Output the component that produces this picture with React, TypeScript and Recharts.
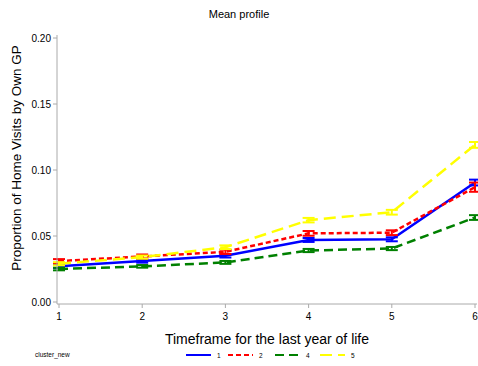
import React from "react";
import { LineChart, Line, XAxis, YAxis, ErrorBar } from "recharts";

const timeframes = [1, 2, 3, 4, 5, 6];
const cluster1 = [0.027, 0.031, 0.035, 0.047, 0.0475, 0.0905];
const cluster1Err = [0.0012, 0.0012, 0.0013, 0.0015, 0.0015, 0.0022];
const cluster2 = [0.031, 0.0345, 0.038, 0.052, 0.0525, 0.087];
const cluster2Err = [0.0015, 0.0015, 0.0016, 0.0018, 0.0018, 0.0035];
const cluster4 = [0.025, 0.027, 0.030, 0.039, 0.0405, 0.064];
const cluster4Err = [0.0010, 0.0010, 0.0011, 0.0012, 0.0012, 0.0018];
const cluster5 = [0.029, 0.034, 0.0415, 0.062, 0.068, 0.119];
const cluster5Err = [0.0012, 0.0012, 0.0014, 0.0017, 0.0018, 0.0022];
const yTicks = [0, 0.05, 0.1, 0.15, 0.2];
const seriesNames = ["1", "2", "4", "5"];

const data = timeframes.map((t, i) => ({
  t,
  c1: cluster1[i], c1e: cluster1Err[i],
  c2: cluster2[i], c2e: cluster2Err[i],
  c4: cluster4[i], c4e: cluster4Err[i],
  c5: cluster5[i], c5e: cluster5Err[i],
}));

const series = [
  { key: "c1", err: "c1e", color: "#0000ff", dash: undefined as string | undefined },
  { key: "c2", err: "c2e", color: "#ff0000", dash: "5 3" },
  { key: "c4", err: "c4e", color: "#008000", dash: "9 5" },
  { key: "c5", err: "c5e", color: "#ffff00", dash: "12 6" },
];

const FONT = "'Liberation Sans', Arial, sans-serif";

const LegendBox = () => (
  <svg width={478} height={14} style={{ position: "absolute", left: 0, top: 348, display: "block" }}>
    <text x={35} y={9} fontSize={6.5} fontFamily={FONT} fill="#000">cluster_new</text>
    {series.map((s, i) => {
      const x0 = [186, 228, 275, 320][i];
      return (
        <g key={s.key}>
          <line x1={x0} x2={x0 + 25} y1={7} y2={7} stroke={s.color} strokeWidth={2} strokeDasharray={s.dash} />
          <text x={x0 + 31} y={9.5} fontSize={6.5} fontFamily={FONT} fill="#000">{seriesNames[i]}</text>
        </g>
      );
    })}
  </svg>
);

const YLabel = () => (
  <text
    x={0}
    y={0}
    transform="translate(21, 158) rotate(-90)"
    textAnchor="middle"
    fontSize={13.5}
    fontFamily={FONT}
    fill="#000"
  >
    Proportion of Home Visits by Own GP
  </text>
);

export default function App() {
  return (
    <div style={{ position: "absolute", left: 0, top: 0, width: 478, height: 366, background: "#fff", fontFamily: FONT }}>
      <div style={{ position: "absolute", left: 0, top: 8, width: 478, textAlign: "center", fontSize: 11, color: "#000" }}>
        Mean profile
      </div>
      <LineChart width={478} height={366} data={data} margin={{ top: 35, right: 1, bottom: 20, left: 0 }}>
        <XAxis
          dataKey="t"
          type="number"
          domain={[1, 6]}
          ticks={timeframes}
          padding={{ left: 2, right: 2 }}
          height={42}
          stroke="#aaa"
          tickSize={4}
          tick={{ fill: "#000", fontSize: 10, fontFamily: FONT, dy: 3 }}
          label={{ value: "Timeframe for the last year of life", position: "insideBottom", offset: 2, fontSize: 14, fill: "#000", fontFamily: FONT }}
        />
        <XAxis xAxisId="top" orientation="top" dataKey="t" type="number" domain={[1, 6]} height={0} tick={false} tickLine={false} stroke="#aaa" />
        <YAxis
          type="number"
          domain={[0, 0.2]}
          ticks={yTicks}
          tickFormatter={(v: number) => v.toFixed(2)}
          padding={{ top: 3, bottom: 2 }}
          width={57}
          stroke="#aaa"
          tickSize={4}
          tick={{ fill: "#000", fontSize: 10, fontFamily: FONT }}
          label={{ content: YLabel }}
        />
        <YAxis yAxisId="right" orientation="right" type="number" domain={[0, 0.2]} width={0} tick={false} tickLine={false} stroke="#aaa" />
        {series.map((s) => (
          <Line
            key={s.key}
            dataKey={s.key}
            stroke={s.color}
            strokeWidth={2.5}
            strokeDasharray={s.dash}
            dot={false}
            activeDot={false}
            isAnimationActive={false}
          >
            <ErrorBar dataKey={s.err} width={6} stroke={s.color} strokeWidth={2} direction="y" />
          </Line>
        ))}
      </LineChart>
      <LegendBox />
    </div>
  );
}
